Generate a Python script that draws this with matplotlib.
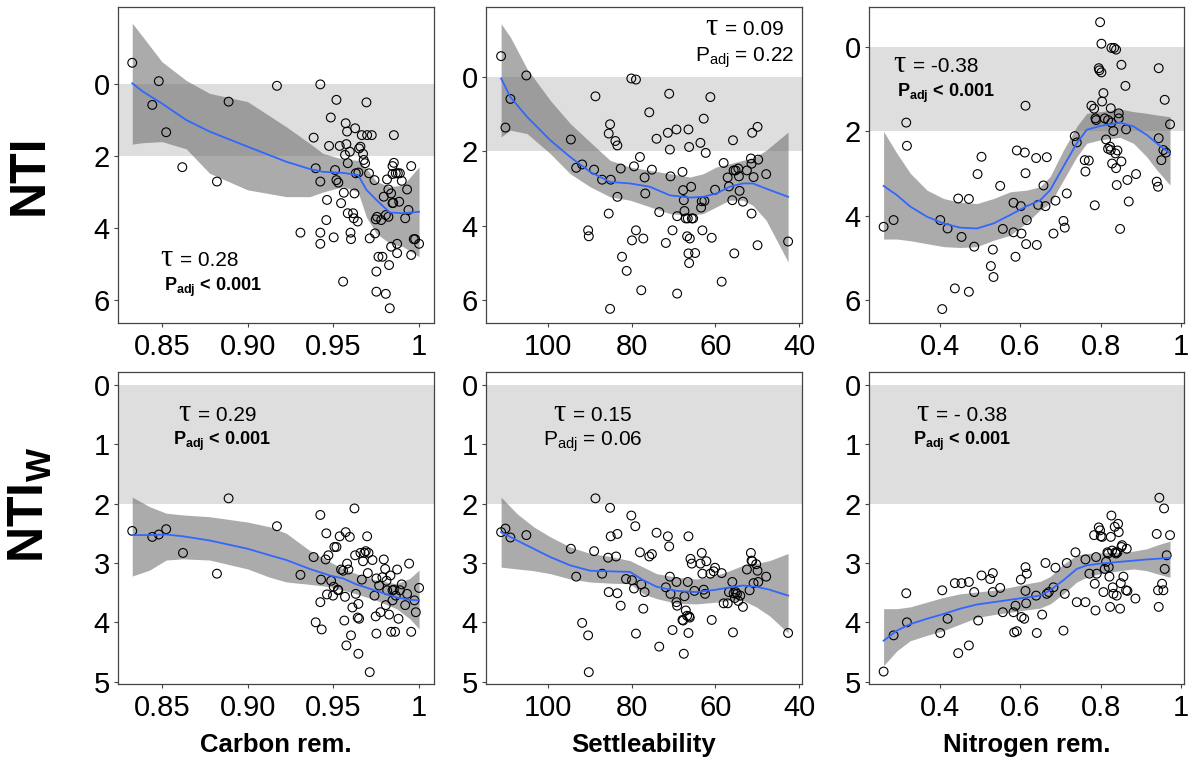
import numpy as np
import matplotlib.pyplot as plt
from matplotlib.transforms import offset_copy

plt.rcParams['font.family'] = 'Liberation Sans'
plt.rcParams['mathtext.fontset'] = 'custom'
plt.rcParams['mathtext.rm'] = 'Liberation Sans'
plt.rcParams['mathtext.sf'] = 'Liberation Sans'
plt.rcParams['mathtext.bf'] = 'Liberation Sans:bold'
plt.rcParams['mathtext.it'] = 'Liberation Sans:italic'

# ---- scatter data ----
# Carbon removal vs NTI
carb_x1 = [0.8327, 0.8482, 0.8444, 0.8525, 0.8619, 0.8821, 0.8889, 0.9171, 0.9308, 0.9385,
           0.9397, 0.9424, 0.9424, 0.9424, 0.9424, 0.9463, 0.9459, 0.9475, 0.9485, 0.9502,
           0.9510, 0.9518, 0.9518, 0.9529, 0.9537, 0.9545, 0.9557, 0.9561, 0.9568, 0.9572,
           0.9576, 0.9580, 0.9584, 0.9584, 0.9596, 0.9600, 0.9603, 0.9615, 0.9619, 0.9623,
           0.9627, 0.9631, 0.9642, 0.9646, 0.9650, 0.9658, 0.9666, 0.9673, 0.9677, 0.9685,
           0.9693, 0.9697, 0.9708, 0.9712, 0.9724, 0.9740, 0.9743, 0.9747, 0.9751, 0.9751,
           0.9755, 0.9763, 0.9779, 0.9786, 0.9794, 0.9806, 0.9806, 0.9813, 0.9821, 0.9821,
           0.9825, 0.9829, 0.9837, 0.9837, 0.9845, 0.9845, 0.9845, 0.9849, 0.9853, 0.9853,
           0.9864, 0.9872, 0.9872, 0.9876, 0.9884, 0.9888, 0.9899, 0.9919, 0.9930, 0.9938,
           0.9954, 0.9954, 0.9969, 0.9977, 1.0]
nti_c = [-0.59, -0.08, 0.58, 1.34, 2.31, 2.71, 0.49, 0.05, 4.13, 1.49,
         2.34, 0.01, 2.71, 4.13, 4.44, 3.22, 3.78, 1.72, 0.93, 4.26,
         2.39, 0.44, 2.67, 2.74, 1.72, 3.31, 5.49, 3.02, 1.97, 1.09,
         1.67, 1.32, 2.20, 3.59, 1.88, 4.13, 4.31, 3.59, 3.73, 3.04,
         1.23, 2.48, 3.82, 2.46, 1.79, 1.74, 1.42, 1.94, 2.11, 2.20,
         0.51, 1.42, 2.48, 4.29, 1.42, 2.67, 4.15, 3.76, 5.77, 5.21,
         3.69, 4.80, 3.78, 4.80, 3.13, 3.64, 5.83, 2.65, 3.69, 2.93,
         5.03, 6.23, 4.52, 3.04, 2.28, 2.50, 3.31, 3.30, 1.42, 2.19,
         2.48, 4.70, 4.44, 2.48, 3.27, 2.48, 2.69, 3.73, 2.93, 3.50,
         2.28, 4.75, 4.31, 4.31, 4.44]

# Settleability vs NTI
sett_x1 = [111.19, 110.16, 108.97, 105.16, 94.52, 93.25, 91.83, 90.40, 90.24, 88.97,
           88.65, 87.06, 85.48, 85.16, 85.0, 85.16, 85.48, 83.89, 83.41, 83.41,
           82.62, 82.30, 81.19, 80.08, 79.92, 79.44, 78.97, 78.97, 78.02, 77.70,
           77.22, 76.90, 76.75, 75.79, 75.16, 74.05, 73.41, 71.83, 71.35, 71.03,
           70.87, 70.71, 70.24, 69.29, 69.13, 69.13, 67.86, 67.70, 67.54, 67.38,
           67.06, 66.75, 66.59, 66.43, 66.43, 66.27, 66.27, 66.11, 65.79, 65.63,
           65.32, 64.84, 63.57, 63.41, 63.25, 63.10, 62.78, 62.62, 62.30, 61.19,
           60.87, 60.08, 58.49, 58.02, 57.06, 56.75, 55.95, 55.79, 55.63, 55.48,
           55.16, 54.52, 54.37, 54.21, 53.41, 52.46, 51.51, 51.35, 51.35, 51.19,
           50.87, 49.92, 49.92, 49.76, 47.86, 42.62]
nti_s = [-0.56, 1.36, 0.59, -0.04, 1.68, 2.44, 2.35, 4.12, 4.28, 2.49,
         0.52, 2.76, 1.52, 1.27, 2.76, 6.23, 3.67, 1.72, 1.84, 3.22,
         2.46, 4.83, 5.21, 0.04, 4.39, 2.40, 0.07, 4.12, 2.15, 5.73,
         4.34, 2.70, 3.13, 0.95, 2.49, 1.66, 3.63, 4.46, 1.50, 0.45,
         1.95, 2.67, 4.12, 1.41, 3.74, 5.82, 2.55, 3.04, 3.31, 3.60,
         3.80, 4.28, 3.80, 1.41, 4.74, 1.88, 5.00, 4.34, 2.95, 3.80,
         3.80, 4.73, 1.77, 3.51, 3.34, 4.12, 1.12, 3.33, 2.04, 0.54,
         4.32, 3.03, 5.50, 2.31, 2.70, 2.94, 3.31, 1.70, 2.51, 4.74,
         2.51, 2.46, 2.67, 3.06, 3.35, 2.51, 2.19, 2.33, 3.67, 1.50,
         2.69, 1.34, 4.52, 2.22, 2.61, 4.42]

# Nitrogen removal vs NTI
nitr_x1 = [0.2589, 0.2838, 0.3153, 0.3170, 0.40, 0.405, 0.4183, 0.4365, 0.4448, 0.4531,
           0.4714, 0.4714, 0.4847, 0.5029, 0.4930, 0.5311, 0.5262, 0.5328, 0.5494, 0.5560,
           0.5826, 0.5826, 0.5876, 0.5909, 0.6009, 0.6025, 0.6108, 0.6125, 0.6125, 0.6141,
           0.6158, 0.6390, 0.6407, 0.6440, 0.6573, 0.6623, 0.6656, 0.6822, 0.6872, 0.7071,
           0.7104, 0.7154, 0.7353, 0.7403, 0.7602, 0.7619, 0.7702, 0.7768, 0.7835, 0.7851,
           0.7868, 0.7884, 0.7951, 0.7967, 0.8017, 0.7984, 0.8017, 0.8034, 0.8067, 0.8100,
           0.8133, 0.8183, 0.8183, 0.8233, 0.8250, 0.8250, 0.8266, 0.8266, 0.8283, 0.8316,
           0.8333, 0.8366, 0.8382, 0.8382, 0.8399, 0.8416, 0.8449, 0.8449, 0.8482, 0.8515,
           0.8515, 0.8615, 0.8631, 0.8665, 0.8698, 0.8880, 0.9395, 0.9428, 0.9445, 0.9445,
           0.9511, 0.9561, 0.9594, 0.9627, 0.9727]
nti_n = [4.26, 4.10, 1.79, 2.34, 4.10, 6.21, 4.30, 5.72, 3.59, 4.50,
         3.60, 5.80, 4.73, 2.60, 3.01, 4.80, 5.19, 5.45, 3.29, 4.31,
         3.69, 4.39, 4.97, 2.45, 3.77, 4.42, 2.50, 1.39, 2.99, 4.67,
         4.10, 2.63, 4.69, 3.74, 3.28, 3.77, 2.61, 4.42, 3.64, 4.12,
         4.28, 3.47, 2.11, 2.26, 2.68, 2.95, 2.69, 1.39, 1.46, 3.75,
         1.69, 1.73, 0.50, 0.55, 0.60, -0.59, -0.08, 1.29, 1.09, 1.69,
         2.19, 1.73, 2.41, 2.36, 1.45, 2.44, 0.02, 1.79, 2.76, 1.99,
         0.02, 2.52, 0.06, 2.87, 3.27, 2.45, 1.57, 1.69, 4.31, 0.42,
         2.71, 0.92, 1.95, 3.15, 3.66, 3.01, 3.19, 3.31, 0.50, 2.16,
         2.68, 2.44, 1.25, 2.50, 1.83]

# Carbon removal vs NTIw
carb_x2 = [0.8327, 0.8444, 0.8482, 0.8525, 0.8623, 0.8821, 0.8889, 0.9171, 0.9308, 0.9385,
           0.9397, 0.9424, 0.9424, 0.9428, 0.9432, 0.9455, 0.9459, 0.9463, 0.9471, 0.9487,
           0.9498, 0.9502, 0.9506, 0.9518, 0.9526, 0.9529, 0.9537, 0.9545, 0.9557, 0.9564,
           0.9568, 0.9572, 0.9576, 0.9580, 0.9588, 0.9596, 0.9603, 0.9611, 0.9623, 0.9627,
           0.9631, 0.9642, 0.9646, 0.9646, 0.9650, 0.9658, 0.9666, 0.9673, 0.9681, 0.9689,
           0.9697, 0.9701, 0.9705, 0.9712, 0.9728, 0.9740, 0.9747, 0.9751, 0.9751, 0.9767,
           0.9775, 0.9786, 0.9794, 0.9802, 0.9806, 0.9810, 0.9814, 0.9825, 0.9833, 0.9837,
           0.9845, 0.9845, 0.9853, 0.9860, 0.9864, 0.9872, 0.9880, 0.9888, 0.9899, 0.9919,
           0.9930, 0.9942, 0.9954, 0.9973, 0.9981, 1.0]
ntiw_c = [2.46, 2.56, 2.52, 2.43, 2.83, 3.18, 1.91, 2.38, 3.20, 2.90,
          4.00, 2.19, 3.66, 3.28, 4.12, 2.94, 2.50, 3.53, 2.87, 3.30,
          3.55, 3.40, 2.73, 2.73, 3.45, 3.46, 2.55, 3.11, 3.13, 3.97,
          3.57, 2.48, 4.39, 3.01, 3.11, 2.56, 4.22, 3.75, 2.08, 2.87,
          3.52, 3.92, 4.53, 3.69, 3.94, 2.83, 3.28, 2.97, 2.83, 2.80,
          2.55, 3.17, 2.83, 4.84, 2.95, 3.55, 3.90, 4.19, 3.26, 3.38,
          3.83, 3.24, 2.94, 3.10, 3.71, 3.30, 3.46, 3.87, 3.21, 4.16,
          3.63, 3.46, 3.45, 4.16, 3.55, 3.11, 3.94, 3.46, 3.36, 3.71,
          3.52, 3.01, 4.16, 3.63, 3.83, 3.42]

# Settleability vs NTIw
sett_x2 = [111.19, 110.16, 108.97, 105.16, 94.52, 93.25, 91.83, 90.40, 90.24, 88.97,
           88.65, 87.06, 85.63, 85.48, 85.16, 85.0, 83.73, 83.41, 83.41, 82.62,
           81.35, 80.08, 79.92, 79.44, 79.13, 78.97, 78.02, 77.70, 77.22, 76.90,
           75.79, 75.16, 74.05, 73.41, 71.83, 71.35, 71.03, 70.87, 70.71, 70.24,
           69.29, 69.29, 69.13, 67.86, 67.70, 67.54, 67.38, 67.06, 66.75, 66.59,
           66.43, 66.43, 66.27, 66.11, 65.95, 65.63, 65.0, 63.57, 63.25, 63.10,
           62.78, 62.46, 62.14, 61.19, 60.87, 60.40, 60.08, 58.49, 58.02, 57.06,
           56.75, 55.95, 55.79, 55.63, 55.32, 55.16, 54.84, 54.52, 54.05, 53.41,
           52.46, 51.83, 51.51, 51.35, 51.19, 50.87, 50.24, 49.92, 49.76, 47.86,
           42.62]
ntiw_s = [2.48, 2.42, 2.57, 2.53, 2.76, 3.23, 4.01, 4.22, 4.84, 2.80,
          1.91, 3.18, 2.91, 3.49, 2.07, 2.55, 2.89, 2.51, 3.51, 3.72,
          3.27, 2.20, 3.29, 3.43, 2.38, 4.19, 2.82, 3.36, 3.77, 3.49,
          2.89, 2.85, 2.49, 4.41, 3.41, 2.55, 2.72, 3.23, 3.52, 4.13,
          3.32, 3.66, 3.72, 3.96, 3.97, 4.53, 3.56, 3.80, 3.89, 3.32,
          2.55, 4.18, 3.90, 3.92, 2.93, 3.01, 3.47, 3.01, 2.83, 3.18,
          3.45, 3.52, 2.97, 3.18, 3.96, 3.14, 3.08, 3.17, 3.68, 3.68,
          3.49, 3.32, 4.17, 3.51, 3.59, 3.49, 3.52, 3.64, 3.55, 3.74,
          3.11, 3.46, 2.83, 2.96, 2.97, 3.34, 3.02, 3.13, 3.32, 3.23,
          4.18]

# Nitrogen removal vs NTIw
nitr_x2 = [0.2589, 0.2838, 0.3153, 0.3170, 0.40, 0.405, 0.4183, 0.4365, 0.4448, 0.4531,
           0.4714, 0.4714, 0.4847, 0.4946, 0.5029, 0.5245, 0.5311, 0.5311, 0.5494, 0.5560,
           0.5826, 0.5843, 0.5876, 0.5909, 0.6009, 0.6025, 0.6092, 0.6125, 0.6125, 0.6141,
           0.6158, 0.6390, 0.6407, 0.6540, 0.6623, 0.6656, 0.6706, 0.6822, 0.6872, 0.7071,
           0.7104, 0.7154, 0.7370, 0.7403, 0.7619, 0.7619, 0.7718, 0.7835, 0.7851, 0.7868,
           0.7884, 0.7901, 0.7951, 0.7984, 0.8001, 0.8034, 0.8067, 0.8100, 0.8133, 0.8166,
           0.8183, 0.8200, 0.8216, 0.8233, 0.8250, 0.8266, 0.8283, 0.8299, 0.8316, 0.8349,
           0.8366, 0.8382, 0.8399, 0.8416, 0.8432, 0.8449, 0.8482, 0.8499, 0.8515, 0.8532,
           0.8565, 0.8631, 0.8648, 0.8665, 0.8864, 0.9395, 0.9428, 0.9445, 0.9461, 0.9528,
           0.9561, 0.9578, 0.9594, 0.9644, 0.9727]
ntiw_n = [4.83, 4.22, 3.51, 4.00, 4.18, 3.46, 3.94, 3.34, 4.52, 3.34,
          3.32, 4.39, 3.49, 3.97, 3.21, 3.27, 3.17, 3.49, 3.42, 3.83,
          3.83, 4.17, 3.72, 4.15, 3.28, 3.91, 3.94, 3.07, 3.47, 3.68,
          3.18, 3.55, 4.18, 3.87, 3.00, 3.52, 3.49, 3.41, 3.08, 4.14,
          3.52, 3.00, 2.82, 3.66, 2.94, 3.66, 3.18, 2.53, 3.35, 3.80,
          2.90, 3.18, 2.40, 2.45, 2.55, 2.56, 3.49, 3.10, 2.98, 2.82,
          2.84, 3.07, 3.23, 3.74, 2.56, 2.20, 2.79, 3.41, 3.52, 2.39,
          2.82, 2.84, 3.55, 2.82, 2.34, 2.48, 3.77, 3.34, 2.73, 2.70,
          3.23, 3.46, 2.76, 3.47, 3.60, 2.51, 3.46, 3.74, 1.90, 3.35,
          3.46, 2.08, 3.10, 2.87, 2.53]

# ---- smoother (loess) curves with confidence band ----
fit_c1_x = [0.8327, 0.8389, 0.85, 0.8642, 0.8778, 0.90, 0.9226, 0.9362, 0.9440, 0.9557,
            0.9644, 0.9693, 0.9751, 0.9829, 0.9907, 1.0]
fit_c1_y = [-0.02, 0.21, 0.54, 1.0, 1.32, 1.74, 2.16, 2.36, 2.44, 2.47, 2.53, 2.94, 3.22, 3.57, 3.59, 3.55]
fit_c1_hi = [-1.69, -1.31, -0.62, -0.1, 0.26, 0.49, 1.19, 1.65, 1.93, 2.09, 2.12, 2.35, 2.71, 2.85, 2.81, 2.30]
fit_c1_lo = [1.67, 1.63, 1.60, 1.80, 2.48, 2.94, 3.13, 3.13, 3.0, 2.85, 3.0, 3.7, 4.15, 4.43, 4.52, 4.80]

fit_s1_x = [111.19, 108.97, 105.0, 99.44, 94.68, 89.92, 85.16, 80.40, 75.63, 70.87,
            66.11, 62.94, 59.76, 56.59, 53.41, 51.03, 47.86, 42.62]
fit_s1_y = [0.04, 0.54, 1.07, 1.70, 2.15, 2.55, 2.82, 2.86, 2.95, 3.18, 3.24, 3.22, 3.13, 2.95,
            2.86, 2.86, 3.0, 3.22]
fit_s1_hi = [-1.43, -1.07, -0.22, 0.63, 1.25, 1.75, 2.24, 2.42, 2.51, 2.60, 2.69, 2.60, 2.42,
             2.33, 2.24, 2.19, 1.97, 1.48]
fit_s1_lo = [1.61, 1.43, 1.52, 2.06, 2.60, 2.95, 3.22, 3.31, 3.49, 3.67, 3.72, 3.67, 3.49,
             3.31, 3.31, 3.45, 3.85, 4.97]

fit_n1_x = [0.2589, 0.2921, 0.3253, 0.3668, 0.4083, 0.4498, 0.4913, 0.5328, 0.5743, 0.6158,
            0.6490, 0.6739, 0.7071, 0.7403, 0.7652, 0.7984, 0.8482, 0.8814, 0.9146, 0.9395, 0.9727]
fit_n1_y = [3.29, 3.51, 3.78, 4.02, 4.18, 4.28, 4.30, 4.18, 3.98, 3.77, 3.63, 3.39, 2.83, 2.28,
            1.96, 1.87, 1.79, 1.88, 2.08, 2.28, 2.52]
fit_n1_hi = [2.0, 2.52, 2.99, 3.39, 3.59, 3.68, 3.71, 3.59, 3.43, 3.39, 3.31, 3.07, 2.44, 1.88,
             1.57, 1.53, 1.47, 1.53, 1.57, 1.61, 1.65]
fit_n1_lo = [4.55, 4.55, 4.59, 4.66, 4.73, 4.75, 4.73, 4.58, 4.46, 4.16, 3.86, 3.71, 3.15, 2.60,
             2.28, 2.20, 2.14, 2.28, 2.60, 2.91, 3.27]

fit_c2_x = [0.8327, 0.8428, 0.8525, 0.8623, 0.8778, 0.90, 0.9129, 0.9226, 0.9362, 0.9479,
            0.9557, 0.9634, 0.9751, 0.9868, 0.9946, 1.0]
fit_c2_y = [2.53, 2.53, 2.52, 2.55, 2.62, 2.76, 2.87, 2.95, 3.10, 3.21, 3.26, 3.36, 3.47, 3.58, 3.62, 3.63]
fit_c2_hi = [1.89, 2.05, 2.16, 2.19, 2.22, 2.31, 2.39, 2.50, 2.79, 2.98, 3.10, 3.18, 3.29, 3.35, 3.26, 3.12]
fit_c2_lo = [3.22, 3.12, 2.95, 2.93, 2.95, 3.10, 3.24, 3.32, 3.36, 3.40, 3.46, 3.52, 3.63, 3.77, 3.94, 4.11]

fit_s2_x = [111.19, 107.38, 103.41, 99.44, 94.68, 89.92, 85.16, 80.40, 77.22, 74.05,
            69.29, 64.52, 59.76, 56.59, 53.41, 50.24, 47.06, 42.62]
fit_s2_y = [2.48, 2.62, 2.76, 2.90, 3.04, 3.13, 3.14, 3.15, 3.29, 3.40, 3.47, 3.49, 3.45, 3.41,
            3.38, 3.40, 3.45, 3.55]
fit_s2_hi = [1.89, 2.17, 2.39, 2.56, 2.73, 2.84, 2.89, 2.96, 3.07, 3.18, 3.24, 3.27, 3.21, 3.13,
             3.04, 3.01, 2.96, 2.84]
fit_s2_lo = [3.07, 3.10, 3.13, 3.18, 3.27, 3.32, 3.34, 3.35, 3.52, 3.60, 3.68, 3.69, 3.66, 3.63,
             3.63, 3.74, 3.89, 4.18]

fit_n2_x = fit_n1_x
fit_n2_y = [4.31, 4.14, 4.03, 3.94, 3.86, 3.77, 3.70, 3.66, 3.62, 3.58, 3.55, 3.46, 3.29, 3.10,
            3.04, 3.01, 2.98, 2.96, 2.94, 2.93, 2.91]
fit_n2_hi = [3.77, 3.77, 3.74, 3.66, 3.58, 3.52, 3.49, 3.46, 3.41, 3.35, 3.31, 3.23, 3.02, 2.87,
             2.84, 2.83, 2.82, 2.80, 2.76, 2.70, 2.63]
fit_n2_lo = [4.73, 4.48, 4.31, 4.22, 4.14, 4.03, 3.92, 3.87, 3.83, 3.79, 3.76, 3.69, 3.52, 3.32,
             3.24, 3.18, 3.13, 3.10, 3.13, 3.18, 3.24]

# annotation texts
ann_tau = ['0.28', '0.09', '-0.38', '0.29', '0.15', '- 0.38']
ann_p = ['< 0.001', '= 0.22', '< 0.001', '< 0.001', '= 0.06', '< 0.001']
ann_bold = [True, False, True, True, False, True]

fig = plt.figure(figsize=(11.92, 7.69), dpi=100)

W, H = 1192, 769
cols = [(118, 434), (486, 802), (869, 1184)]
rows = [(7, 323), (372, 684)]


def make_ax(r, c):
    x0, x1 = cols[c]
    y0, y1 = rows[r]
    return fig.add_axes([x0 / W, 1 - y1 / H, (x1 - x0) / W, (y1 - y0) / H])


def panel(ax, x, y, fx, fy, fhi, flo, xlim, ylim, xticks, xlabels, yticks):
    ax.axhspan(0, 2, color='#dedede', lw=0, zorder=0)
    ax.fill_between(fx, fhi, flo, color='#666666', alpha=0.55, lw=0, zorder=1)
    ax.scatter(x, y, s=40, facecolors='none', edgecolors='black', linewidths=0.8, zorder=3)
    ax.plot(fx, fy, color='#3366FF', lw=1.3, zorder=4)
    ax.set_xlim(*xlim)
    ax.set_ylim(*ylim)
    ax.set_xticks(xticks)
    ax.set_xticklabels(xlabels)
    ax.set_yticks(yticks)
    ax.tick_params(labelsize=21, length=3, width=0.8, color='#444444', pad=3)
    ax.tick_params(axis='x', pad=4)
    for s in ax.spines.values():
        s.set_color('#444444')
        s.set_linewidth(0.9)


carb_ticks = [0.85, 0.90, 0.95, 1.0]
carb_labels = ['0.85', '0.90', '0.95', '1']
sett_ticks = [100, 80, 60, 40]
nitr_ticks = [0.4, 0.6, 0.8, 1.0]
nitr_labels = ['0.4', '0.6', '0.8', '1']

axes = []
ax = make_ax(0, 0)
panel(ax, carb_x1, nti_c, fit_c1_x, fit_c1_y, fit_c1_hi, fit_c1_lo,
      (0.8244, 1.0087), (6.64, -2.14), carb_ticks, carb_labels, [0, 2, 4, 6])
axes.append(ax)
ax = make_ax(0, 1)
panel(ax, sett_x1, nti_s, fit_s1_x, fit_s1_y, fit_s1_hi, fit_s1_lo,
      (114.8, 39.3), (6.61, -1.88), sett_ticks, [str(t) for t in sett_ticks], [0, 2, 4, 6])
axes.append(ax)
ax = make_ax(0, 2)
panel(ax, nitr_x1, nti_n, fit_n1_x, fit_n1_y, fit_n1_hi, fit_n1_lo,
      (0.2225, 1.0075), (6.54, -0.95), nitr_ticks, nitr_labels, [0, 2, 4, 6])
axes.append(ax)
ax = make_ax(1, 0)
panel(ax, carb_x2, ntiw_c, fit_c2_x, fit_c2_y, fit_c2_hi, fit_c2_lo,
      (0.8244, 1.0087), (5.04, -0.22), carb_ticks, carb_labels, [0, 1, 2, 3, 4, 5])
axes.append(ax)
ax = make_ax(1, 1)
panel(ax, sett_x2, ntiw_s, fit_s2_x, fit_s2_y, fit_s2_hi, fit_s2_lo,
      (114.8, 39.3), (5.04, -0.22), sett_ticks, [str(t) for t in sett_ticks], [0, 1, 2, 3, 4, 5])
axes.append(ax)
ax = make_ax(1, 2)
panel(ax, nitr_x2, ntiw_n, fit_n2_x, fit_n2_y, fit_n2_hi, fit_n2_lo,
      (0.2225, 1.0075), (5.04, -0.22), nitr_ticks, nitr_labels, [0, 1, 2, 3, 4, 5])
axes.append(ax)

# annotation anchors in figure pixels: left edge of "=" and baseline of the tau line
eq_px = [(180, 266), (725, 35), (913, 72), (198, 421), (573, 421), (936, 421)]
p_pos = [(0.30, 0.114), (0.82, 0.839), (0.245, 0.728), (0.33, 0.776), (0.339, 0.776), (0.295, 0.776)]

for i, ax in enumerate(axes):
    ex, ey = eq_px[i]
    fx, fy = ex / W, 1 - ey / H
    fig.text(fx, fy, '= ' + ann_tau[i], ha='left', va='baseline', fontsize=15)
    tr = offset_copy(fig.transFigure, fig=fig, x=-7, y=0, units='dots')
    fig.text(fx, fy, '\u03c4', transform=tr, ha='right', va='baseline', fontsize=22,
             family='Liberation Serif')
    if ann_bold[i]:
        ax.text(*p_pos[i], r'$\mathbf{P_{adj}}$ ' + ann_p[i], transform=ax.transAxes,
                ha='center', va='center', fontsize=13, fontweight='bold')
    else:
        ax.text(*p_pos[i], r'$\mathsf{P_{adj}}$ ' + ann_p[i], transform=ax.transAxes,
                ha='center', va='center', fontsize=15)

for ax, lab in zip(axes[3:], ['Carbon rem.', 'Settleability', 'Nitrogen rem.']):
    ax.set_xlabel(lab, fontsize=18.5, fontweight='bold', labelpad=8)

fig.text(30 / W, 1 - 175 / H, 'NTI', rotation=90, ha='center', va='center',
         fontsize=36, fontweight='bold')
fig.text(30 / W, 1 - 505 / H, r'NTI$_{\mathbf{W}}$', rotation=90, ha='center', va='center',
         fontsize=36, fontweight='bold')

fig.savefig('out.png', dpi=100)
